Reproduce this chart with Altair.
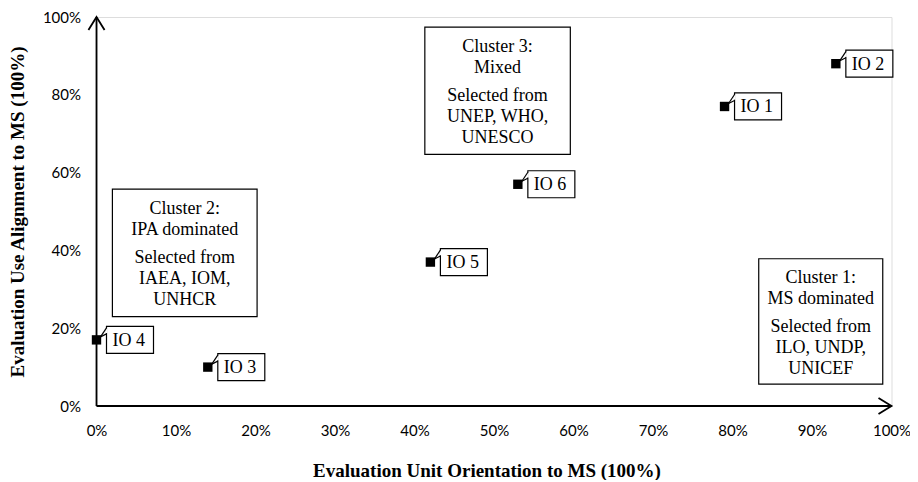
import altair as alt
import pandas as pd

# ---- data ----
labels = ["IO 1", "IO 2", "IO 3", "IO 4", "IO 5", "IO 6"]
orientation = [79, 93, 14, 0, 42, 53]     # x, %
alignment = [77, 88, 10, 17, 37, 57]      # y, %

x_ticks = [0, 10, 20, 30, 40, 50, 60, 70, 80, 90, 100]
y_ticks = [0, 20, 40, 60, 80, 100]

cluster_lines = [
    ["Cluster 1:", "MS dominated", "Selected from", "ILO, UNDP,", "UNICEF"],
    ["Cluster 2:", "IPA dominated", "Selected from", "IAEA, IOM,", "UNHCR"],
    ["Cluster 3:", "Mixed", "Selected from", "UNEP, WHO,", "UNESCO"],
]
cluster_x0 = [83.3, 2.0, 41.3]
cluster_x1 = [98.9, 20.2, 59.6]
cluster_y0 = [5.6, 23.0, 64.7]
cluster_y1 = [37.85, 55.75, 97.4]

# ---- layout ----
W, H = 795, 389
PX_PER_Y = H / 100.0
line_offsets_px = [19.5, 40.5, 68.5, 89.5, 110.5]

pts = pd.DataFrame({"label": labels, "x": orientation, "y": alignment})

boxes = pd.DataFrame({"x": cluster_x0, "x1": cluster_x1, "y": cluster_y0, "y1": cluster_y1})
rows = []
for i, lines in enumerate(cluster_lines):
    cx = (cluster_x0[i] + cluster_x1[i]) / 2
    for j, t in enumerate(lines):
        rows.append({"x": cx, "y": cluster_y1[i] - line_offsets_px[j] / PX_PER_Y, "t": t})
ctext = pd.DataFrame(rows)

axes_df = pd.DataFrame({"x": [0, 0], "y": [0, 0], "x1": [100, 0], "y1": [0, 100]})
arrow_r = pd.DataFrame({"x": [100], "y": [0]})
arrow_u = pd.DataFrame({"x": [0], "y": [100]})

xs = alt.Scale(domain=[0, 100], nice=False, zero=True)
ys = alt.Scale(domain=[0, 100], nice=False, zero=True)

serif = "Liberation Serif"
sans = "Lato"

x_axis = alt.Axis(values=x_ticks, labelExpr="datum.value + '%'", domain=False, ticks=False, tickSize=0,
                  grid=False, labelFont=sans, labelFontSize=15, labelColor="black", labelPadding=17,
                  labelFlush=False, labelOverlap=False,
                  title="Evaluation Unit Orientation to MS (100%)", titleFont=serif, titleFontSize=19,
                  titleFontWeight="bold", titleColor="black", titleX=390, titleY=64,
                  titleBaseline="middle", titleAlign="center", titleAnchor="start")
y_axis = alt.Axis(values=y_ticks, labelExpr="datum.value + '%'", domain=False, ticks=False, tickSize=0,
                  grid=False, labelFont=sans, labelFontSize=15, labelColor="black", labelPadding=16,
                  labelFlush=False, labelOverlap=False,
                  title="Evaluation Use Alignment to MS (100%)", titleFont=serif, titleFontSize=19,
                  titleFontWeight="bold", titleColor="black", titleX=-79, titleY=H / 2,
                  titleAngle=270, titleBaseline="middle", titleAlign="center", titleAnchor="start")

X = alt.X("x:Q", scale=xs, axis=x_axis)
Y = alt.Y("y:Q", scale=ys, axis=y_axis)

cluster_rect = alt.Chart(boxes).mark_rect(fill="white", stroke="black", strokeWidth=1.2).encode(
    x=X, x2="x1:Q", y=Y, y2="y1:Q")

cluster_txt = alt.Chart(ctext).mark_text(font=serif, fontSize=18, color="black", align="center",
                                         baseline="middle").encode(x=X, y=Y, text="t:N")

axis_lines = alt.Chart(axes_df).mark_rule(color="black", strokeWidth=1.8).encode(
    x=X, x2="x1:Q", y=Y, y2="y1:Q")

arr_r = alt.Chart(arrow_r).mark_point(shape="M -1 -0.62 L 0 0 L -1 0.62", size=676, filled=False,
                                      color="black", strokeWidth=1.8, opacity=1).encode(x=X, y=Y)
arr_u = alt.Chart(arrow_u).mark_point(shape="M -0.62 1 L 0 0 L 0.62 1", size=676, filled=False,
                                      color="black", strokeWidth=1.8, opacity=1).encode(x=X, y=Y)

lab_box = alt.Chart(pts).mark_rect(fill="white", stroke="black", strokeWidth=1.2,
                                   xOffset=10, x2Offset=57, yOffset=-13.5, y2Offset=13.5).encode(
    x=X, x2="x:Q", y=Y, y2="y:Q")

tail_cover = alt.Chart(pts).mark_rule(color="white", strokeWidth=2,
                                      xOffset=10, x2Offset=10, yOffset=-11.5, y2Offset=-6.8).encode(
    x=X, x2="x:Q", y=Y, y2="y:Q")
tail1 = alt.Chart(pts).mark_rule(color="black", strokeWidth=1.2,
                                 xOffset=4, x2Offset=10, yOffset=-3, y2Offset=-12).encode(
    x=X, x2="x:Q", y=Y, y2="y:Q")
tail2 = alt.Chart(pts).mark_rule(color="black", strokeWidth=1.2,
                                 xOffset=4, x2Offset=10, yOffset=-3, y2Offset=-6).encode(
    x=X, x2="x:Q", y=Y, y2="y:Q")

squares = alt.Chart(pts).mark_square(size=88, color="black", opacity=1).encode(x=X, y=Y)

lab_txt = alt.Chart(pts).mark_text(font=serif, fontSize=18, color="black", align="left",
                                   baseline="middle", dx=16, dy=1).encode(x=X, y=Y, text="label:N")

chart = alt.layer(
    cluster_rect, cluster_txt, axis_lines, arr_r, arr_u,
    lab_box, tail_cover, tail1, tail2, squares, lab_txt
).properties(
    width=W, height=H,
    autosize=alt.AutoSizeParams(type="none"),
    padding={"left": 88.5, "top": 9, "right": 18.5, "bottom": 74},
).configure_view(strokeWidth=0, stroke="transparent").configure(background="white")

chart.save("out.html", embed_options={"renderer": "svg", "actions": False})
